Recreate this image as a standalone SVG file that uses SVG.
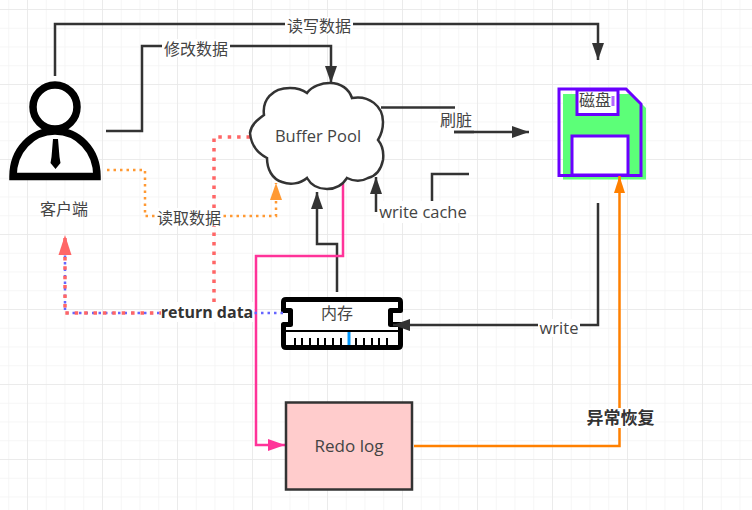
<svg xmlns="http://www.w3.org/2000/svg" width="752" height="510" viewBox="0 0 752 510">
<style>
text{font-family:"Open Sans","Noto Sans CJK SC",sans-serif;font-size:16px;fill:#444;text-anchor:middle}
.w{font-size:16.500px}
.b{font-weight:bold;fill:#333;font-size:16px}
.h{font-weight:bold;fill:#333;font-size:17px}
.c{fill:none;stroke:#333;stroke-width:2.500}
.l{fill:#fff}
</style>
<defs>
<pattern id="g1" width="18.75" height="18.75" patternUnits="userSpaceOnUse" x="8.25" y="9">
<path d="M0 0H18.75M0 0V18.75" fill="none" stroke="#f3f3f3" stroke-width="1.500"/>
</pattern>
<pattern id="g2" width="75" height="75" patternUnits="userSpaceOnUse" x="27" y="9">
<path d="M0 0H75M0 0V75" fill="none" stroke="#e8e8e8" stroke-width="1.500"/>
</pattern>
<marker id="ad" markerUnits="userSpaceOnUse" markerWidth="18" markerHeight="14" refX="17" refY="7" orient="auto"><path d="M0 1L17 7L0 13Z" fill="#333"/></marker>
<marker id="ao" markerUnits="userSpaceOnUse" markerWidth="18" markerHeight="14" refX="17" refY="7" orient="auto"><path d="M0 1.500L17 7L0 12.500Z" fill="#ff8000"/></marker>
<marker id="ay" markerUnits="userSpaceOnUse" markerWidth="18" markerHeight="14" refX="17" refY="7" orient="auto"><path d="M0 1L17 7L0 13Z" fill="#ff9933"/></marker>
<marker id="ap" markerUnits="userSpaceOnUse" markerWidth="18" markerHeight="14" refX="17" refY="7" orient="auto"><path d="M0 1L17 7L0 13Z" fill="#ff3399"/></marker>
<marker id="ar" markerUnits="userSpaceOnUse" markerWidth="21" markerHeight="16" refX="20" refY="7" orient="auto"><path d="M0 0.500L20 7L0 13.500Z" fill="#ff6666"/></marker>
</defs>
<rect width="752" height="510" fill="#fff"/>
<rect width="752" height="510" fill="url(#g1)"/>
<rect width="752" height="510" fill="url(#g2)"/>

<g id="node-client">
<circle cx="55" cy="107" r="22" fill="#fff" stroke="#000" stroke-width="7.500"/>
<path d="M13 176.500C13 150 32 131 55 131C78 131 97 150 97 176.500Z" fill="#fff" stroke="#000" stroke-width="7.500"/>
<path d="M53 139H58L59.500 157L60.500 163L55.500 169L50.500 163L51.500 157Z" fill="#000"/>
<text x="64" y="215">客户端</text>
</g>

<g id="node-disk">
<path d="M563 94H632L646 108V179.500H563Z" fill="#5cff78"/>
<path d="M559 89H626L641 104V175.500H559Z" fill="none" stroke="#6a00ff" stroke-width="3"/>
<rect x="577" y="90" width="41" height="24.500" fill="#fff" stroke="#6a00ff" stroke-width="3"/>
<rect x="572" y="136" width="56" height="39" fill="#fff" stroke="#6a00ff" stroke-width="3"/>
<rect x="611.500" y="96" width="3" height="10" fill="#b266ff"/>
<text x="595" y="106">磁盘</text>
</g>

<g id="node-memory">
<path d="M283.500 302Q283.500 299.500 286 299.500H398Q400.500 299.500 400.500 302V310.500H390.500V324.500H400.500V345Q400.500 347.500 398 347.500H286Q283.500 347.500 283.500 345V324.500H290.500V310.500H283.500Z" fill="#fff" stroke="#000" stroke-width="5" stroke-linejoin="round"/>
<path d="M285 331H399" stroke="#000" stroke-width="2" fill="none"/>
<path d="M295 338V346M302 338V346M310 338V346M318 338V346M325 338V346M333 338V346M341 338V346M356 338V346M364 338V346M372 338V346M379 338V346M387 338V346" stroke="#000" stroke-width="2" fill="none"/>
<path d="M349 332V345" stroke="#0099ff" stroke-width="3" fill="none"/>
<text x="337" y="319">内存</text>
</g>

<g id="connectors">
<path class="c" d="M55 76V24H598V60" marker-end="url(#ad)"/>
<path class="c" d="M106 131H142V46H331V83" marker-end="url(#ad)"/>
<path class="c" d="M381 107.500H455"/>
<path class="c" d="M454 132H529" marker-end="url(#ad)"/>
<path class="c" d="M469 174H432V205"/>
<path class="c" d="M376 212V177" marker-end="url(#ad)"/>
<path class="c" d="M337 292V244H317V192" marker-end="url(#ad)"/>
<path class="c" d="M598 203V325H393" marker-end="url(#ad)"/>
<path d="M343 184V256H256V445H285" fill="none" stroke="#ff3399" stroke-width="2.500" marker-end="url(#ap)"/>
<path d="M414 446H619.500V176" fill="none" stroke="#ff8000" stroke-width="2.500" marker-end="url(#ao)"/>
<path d="M107 170H145V216H276V183" fill="none" stroke="#ff9933" stroke-width="2.500" stroke-dasharray="2.500 4" marker-end="url(#ay)"/>
<path d="M283 313H65V240" fill="none" stroke="#6666ff" stroke-width="2.500" stroke-dasharray="2.500 4"/>
<path d="M250 137H214V313H65V235" fill="none" stroke="#ff6666" stroke-width="3.500" stroke-dasharray="3.500 5.900" marker-end="url(#ar)"/>
<g id="connector-labels">
<rect class="l" x="285" y="17" width="68" height="18"/><text x="319" y="31.500">读写数据</text>
<rect class="l" x="162" y="39" width="68" height="18"/><text x="196" y="54.500">修改数据</text>
<rect class="l" x="155" y="208" width="68" height="18"/><text x="189" y="223.500">读取数据</text>
<rect class="l" x="438" y="112" width="36" height="18"/><text x="456" y="126">刷脏</text>
<path d="M454 132H474" class="c"/>
<rect class="l" x="378" y="201" width="90" height="22"/><text class="w" x="423" y="218">write cache</text>
<rect class="l" x="538" y="319" width="42" height="18"/><text class="w" x="559" y="334">write</text>
<rect class="l" x="161" y="302" width="93" height="20"/><text class="b" x="207" y="318">return data</text>
<rect class="l" x="585" y="408" width="70" height="20"/><text class="h" x="620.500" y="424">异常恢复</text>
</g>
</g>

<g id="node-buffer-pool">
<path d="M250 133C251 125 257 120 264 115C262 100 272 88 290 88C297 88 303 90 307 93C312 86 322 83 330 83C341 83 349 89 352 98C369 95 383 106 383 122C383 129 381 135 378 140C383 146 384 152 383 160C381 170 376 176 368 178C361 182 353 181 347 178C342 186 334 189 327 189C318 189 311 185 307 178C300 184 290 185 282 182C272 179 267 169 267 158C257 153 251 144 250 133Z" fill="#fff" stroke="#333" stroke-width="2.500"/>
<text class="w" x="318" y="142">Buffer Pool</text>
</g>

<g id="node-redo-log">
<rect x="286" y="402.500" width="126" height="87" fill="#ffcccc" stroke="#333" stroke-width="2.500"/>
<text style="font-size:17px" x="349" y="452">Redo log</text>
</g>
</svg>
